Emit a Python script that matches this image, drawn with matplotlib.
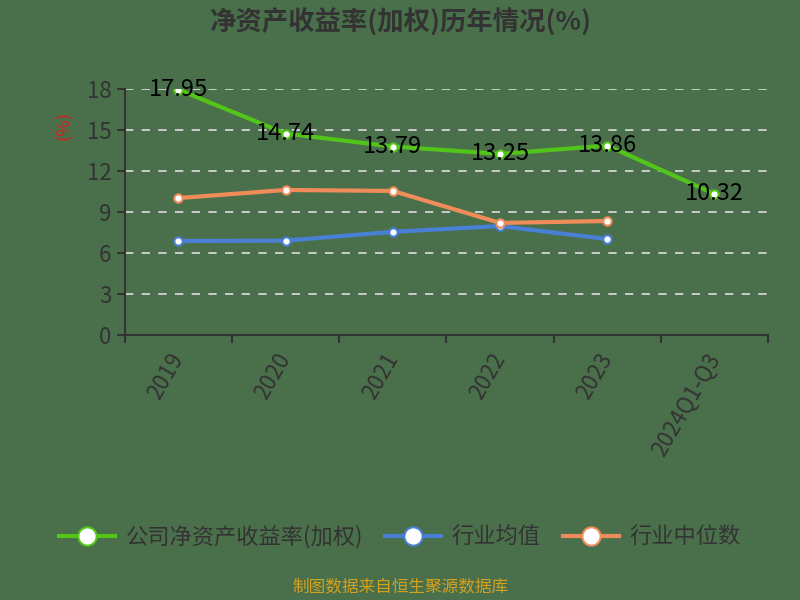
import matplotlib
matplotlib.use('Agg')
import matplotlib.pyplot as plt

plt.rcParams['font.family'] = ['Noto Sans CJK SC', 'DejaVu Sans']

# 데이터
years = ['2019', '2020', '2021', '2022', '2023', '2024Q1-Q3']
company_roe = [17.95, 14.74, 13.79, 13.25, 13.86, 10.32]
industry_avg = [6.88, 6.90, 7.55, 7.97, 7.02]
industry_median = [10.02, 10.61, 10.54, 8.20, 8.34]

bg = '#4a704b'
green = '#52c41a'
blue = '#4a7fd6'
orange = '#f08c5a'
grey = '#333333'

fig = plt.figure(figsize=(8, 6), dpi=100, facecolor=bg)
ax = fig.add_axes([0.156, 0.4417, 0.804, 0.41])
ax.set_facecolor(bg)

x = list(range(len(years)))
mk = dict(marker='o', markersize=6, markerfacecolor='white', markeredgewidth=1.5)
ax.plot(x, company_roe, color=green, lw=3, markeredgecolor=green, label='公司净资产收益率(加权)', zorder=4, **mk)
ax.plot(x[:5], industry_avg, color=blue, lw=3, markeredgecolor=blue, label='行业均值', zorder=3, **mk)
ax.plot(x[:5], industry_median, color=orange, lw=3, markeredgecolor=orange, label='行业中位数', zorder=3, **mk)

# 데이터 라벨
for i, v in enumerate(company_roe):
    ax.text(i, v, f'{v:.2f}', ha='center', va='center', fontsize=17, color='black',
            fontweight='medium', zorder=5)

ax.set_xlim(-0.5, len(years) - 0.5)
ax.set_ylim(0, 18)
ax.set_yticks([0, 3, 6, 9, 12, 15, 18])
ax.set_xticks(x)
ax.set_xticklabels(years, rotation=60, fontsize=16, color=grey, fontweight='medium',
                   ha='right', va='center', rotation_mode='anchor')
ax.set_xticks([i - 0.5 for i in range(len(years) + 1)], minor=True)
ax.tick_params(axis='x', which='major', length=0, pad=14)
ax.tick_params(axis='x', which='minor', length=6, color=grey, width=1.5)
ax.tick_params(axis='y', labelsize=16, labelcolor=grey, length=6, color=grey, width=1.5)
for lbl in ax.get_yticklabels():
    lbl.set_fontweight('medium')

ax.yaxis.grid(True, linestyle=(0, (5, 5)), color='#dddddd', lw=1.2)
ax.set_axisbelow(True)
for s in ['top', 'right']:
    ax.spines[s].set_visible(False)
for s in ['left', 'bottom']:
    ax.spines[s].set_color(grey)
    ax.spines[s].set_linewidth(1.5)

ax.set_ylabel('(%)', color='#d42020', fontsize=13)
ax.yaxis.set_label_coords(-0.08, 0.85)

fig.text(0.5, 0.963, '净资产收益率(加权)历年情况(%)', ha='center', va='center',
         fontsize=19, fontweight='bold', color=grey)

leg = fig.legend(loc='center', bbox_to_anchor=(0.5, 0.105), ncol=3, frameon=False,
                 prop={'size': 16, 'weight': 'medium'}, labelcolor=grey,
                 handlelength=2.5, columnspacing=1.0, handletextpad=0.5, markerscale=2.2)
fig.text(0.5, 0.02, '制图数据来自恒生聚源数据库', ha='center', va='center',
         fontsize=12, color='#d4a020')

fig.savefig('out.png', dpi=100, facecolor=bg)
